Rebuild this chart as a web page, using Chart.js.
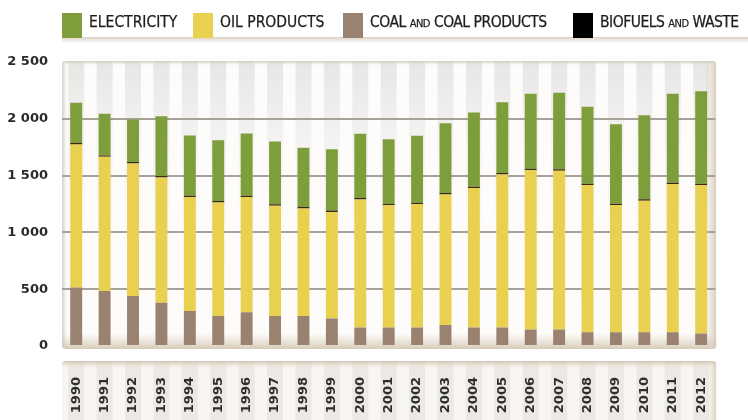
<!DOCTYPE html>
<html><head><meta charset="utf-8">
<script src="https://cdn.jsdelivr.net/npm/chart.js@4/dist/chart.umd.min.js"></script>
<style>
html,body{margin:0;padding:0;background:#fff;}
#wrap{position:relative;width:748px;height:420px;overflow:hidden;background:#fff;}
#c{position:absolute;left:0;top:0;}
#legend{position:absolute;left:0;top:0;width:748px;height:48px;}
#lshadow{position:absolute;left:62px;top:37px;width:686px;height:6px;background:linear-gradient(to bottom,rgba(214,204,188,0.9),rgba(255,255,255,0));}
.item{position:absolute;top:13px;height:25px;display:flex;align-items:flex-start;font-family:"Liberation Sans Narrow","DejaVu Sans Condensed",sans-serif;font-size:15.5px;color:#1e1e1e;white-space:nowrap;}
.box{width:20px;height:25px;margin-right:7px;flex:none;}
.txt{line-height:16px;padding-top:1px;font-variant-caps:small-caps;-webkit-text-stroke:0.25px #1e1e1e;}
.tight{letter-spacing:-0.5px;}
</style></head>
<body>
<div id="wrap">
<canvas id="c" width="748" height="420"></canvas>
<div id="lshadow"></div>
<div id="legend"></div>
</div>
<script>
const years = ["1990","1991","1992","1993","1994","1995","1996","1997","1998","1999","2000","2001","2002","2003","2004","2005","2006","2007","2008","2009","2010","2011","2012"];
const coal        = [515, 485, 441, 380, 309, 265, 298, 263, 263, 243, 163, 163, 163, 184, 163, 163, 146, 146, 120, 120, 120, 120, 111];
const oil         = [1259,1180,1166,1104,1002, 999,1013, 972, 948, 937,1127,1075,1087,1150,1227,1347,1403,1397,1297,1121,1159,1306,1306];
const biofuels    = [12, 12, 12, 12, 12, 12, 12, 12, 12, 12, 12, 12, 12, 12, 12, 12, 12, 12, 12, 12, 12, 12, 12];
const electricity = [355, 367, 375, 527, 530, 536, 548, 554, 522, 541, 566, 571, 589, 615, 653, 624, 659, 674, 676, 700, 741, 782, 814];
const yTicks = [0, 500, 1000, 1500, 2000, 2500];
const seriesNames = ["ELECTRICITY", "OIL PRODUCTS", "COAL and COAL PRODUCTS", "BIOFUELS and WASTE"];
const seriesColors = ["#7e9d3b", "#e9d04e", "#9a8271", "#000000"];

function fmt(v){
  if (v < 1000) return String(v);
  return Math.floor(v/1000) + " " + String(v%1000).padStart(3,"0");
}
function rr(ctx,x,y,w,h,r){
  ctx.beginPath();
  ctx.moveTo(x+r,y);ctx.lineTo(x+w-r,y);ctx.quadraticCurveTo(x+w,y,x+w,y+r);
  ctx.lineTo(x+w,y+h-r);ctx.quadraticCurveTo(x+w,y+h,x+w-r,y+h);
  ctx.lineTo(x+r,y+h);ctx.quadraticCurveTo(x,y+h,x,y+h-r);
  ctx.lineTo(x,y+r);ctx.quadraticCurveTo(x,y,x+r,y);ctx.closePath();
}

const panels = {
  id: "panels",
  beforeDraw(chart){
    const ctx = chart.ctx, a = chart.chartArea, xs = chart.scales.x;
    const L = a.left, R = a.right + 1, T = a.top - 1, B = a.bottom + 3;
    ctx.save();
    rr(ctx, L, T, R-L, B-T, 4);
    ctx.fillStyle = "#fdfcfa"; ctx.fill();
    ctx.save(); rr(ctx, L, T, R-L, B-T, 4); ctx.clip();
    for (let i = 0; i < years.length; i++){
      const cx = xs.getPixelForValue(i);
      const g = ctx.createLinearGradient(0, T, 0, B);
      g.addColorStop(0, "rgba(212,212,212,0.55)");
      g.addColorStop(0.25, "rgba(222,222,222,0.35)");
      g.addColorStop(0.6, "rgba(235,235,235,0.08)");
      g.addColorStop(1, "rgba(235,235,235,0)");
      ctx.fillStyle = g;
      ctx.fillRect(cx - 8, T, 16, B - T);
    }
    let g = ctx.createLinearGradient(0, B-16, 0, B);
    g.addColorStop(0, "rgba(222,210,194,0)");
    g.addColorStop(1, "rgba(214,200,182,0.95)");
    ctx.fillStyle = g; ctx.fillRect(L, B-16, R-L, 16);
    g = ctx.createLinearGradient(R-12, 0, R, 0);
    g.addColorStop(0, "rgba(222,210,194,0)");
    g.addColorStop(1, "rgba(214,200,182,0.9)");
    ctx.fillStyle = g; ctx.fillRect(R-12, T, 12, B-T);
    g = ctx.createLinearGradient(L, 0, L+5, 0);
    g.addColorStop(0, "rgba(200,195,188,0.8)");
    g.addColorStop(1, "rgba(220,215,210,0)");
    ctx.fillStyle = g; ctx.fillRect(L, T, 5, B-T);
    g = ctx.createLinearGradient(0, T, 0, T+4);
    g.addColorStop(0, "rgba(205,200,192,0.9)");
    g.addColorStop(1, "rgba(220,215,210,0)");
    ctx.fillStyle = g; ctx.fillRect(L, T, R-L, 4);
    ctx.restore();
    const PT = 361, PB = 424;
    rr(ctx, L, PT, R-L, PB-PT, 4);
    ctx.fillStyle = "#f8f6f2"; ctx.fill();
    ctx.save(); rr(ctx, L, PT, R-L, PB-PT, 4); ctx.clip();
    for (let i = 0; i < years.length; i++){
      const cx = xs.getPixelForValue(i);
      ctx.fillStyle = "rgba(218,215,211,0.4)";
      ctx.fillRect(cx - 8, PT, 16, PB - PT);
    }
    g = ctx.createLinearGradient(0, PT, 0, PT+7);
    g.addColorStop(0, "rgba(206,194,176,0.95)");
    g.addColorStop(1, "rgba(230,222,210,0)");
    ctx.fillStyle = g; ctx.fillRect(L, PT, R-L, 7);
    g = ctx.createLinearGradient(R-8, 0, R, 0);
    g.addColorStop(0, "rgba(222,210,194,0)");
    g.addColorStop(1, "rgba(214,200,182,0.8)");
    ctx.fillStyle = g; ctx.fillRect(R-8, PT, 8, PB-PT);
    ctx.restore();
    ctx.restore();
  }
};

const chart = new Chart(document.getElementById("c"), {
  type: "bar",
  data: {
    labels: years,
    datasets: [
      { label: seriesNames[2], data: coal, backgroundColor: seriesColors[2] },
      { label: seriesNames[1], data: oil, backgroundColor: seriesColors[1] },
      { label: seriesNames[3], data: biofuels, backgroundColor: "#3b2a12" },
      { label: seriesNames[0], data: electricity, backgroundColor: seriesColors[0] }
    ]
  },
  options: {
    responsive: false,
    animation: false,
    layout: { padding: { top: 62, right: 11, bottom: 0, left: 0 } },
    datasets: { bar: { barPercentage: 0.42, categoryPercentage: 1, borderWidth: 0 } },
    plugins: { legend: { display: false }, tooltip: { enabled: false } },
    scales: {
      x: {
        stacked: true,
        afterFit(s){ s.height = 74; },
        grid: { display: false, drawTicks: false },
        border: { display: false },
        ticks: {
          minRotation: 90, maxRotation: 90, padding: 31, autoSkip: false,
          color: "#2e2e2e",
          font: { family: "DejaVu Sans", size: 13, weight: "bold" }
        }
      },
      y: {
        stacked: true,
        min: 0, max: 2500,
        afterBuildTicks(s){ s.ticks = yTicks.map(v => ({ value: v })); },
        afterFit(s){ s.width = 62; },
        grid: {
          drawTicks: false,
          lineWidth: 2,
          color: c => (c.tick && (c.tick.value === 0 || c.tick.value === 2500)) ? "rgba(0,0,0,0)" : "#a8a19a"
        },
        border: { display: false },
        ticks: {
          padding: 14,
          color: "#2a2a2a",
          font: { family: "DejaVu Sans", size: 13, weight: "bold" },
          callback: v => fmt(v)
        }
      }
    }
  },
  plugins: [panels]
});

const legendOrder = [3, 1, 0, 2];
const legendLeft = [62, 193, 343, 573];
const leg = document.getElementById("legend");
legendOrder.forEach((di, k) => {
  const ds = chart.data.datasets[di];
  const item = document.createElement("div");
  item.className = "item";
  item.style.left = legendLeft[k] + "px";
  const box = document.createElement("div");
  box.className = "box";
  box.style.background = di === 2 ? "#000" : ds.backgroundColor;
  const t = document.createElement("span");
  t.className = "txt" + (k >= 2 ? " tight" : "");
  t.textContent = ds.label;
  item.appendChild(box); item.appendChild(t);
  leg.appendChild(item);
});
</script>
</body></html>
